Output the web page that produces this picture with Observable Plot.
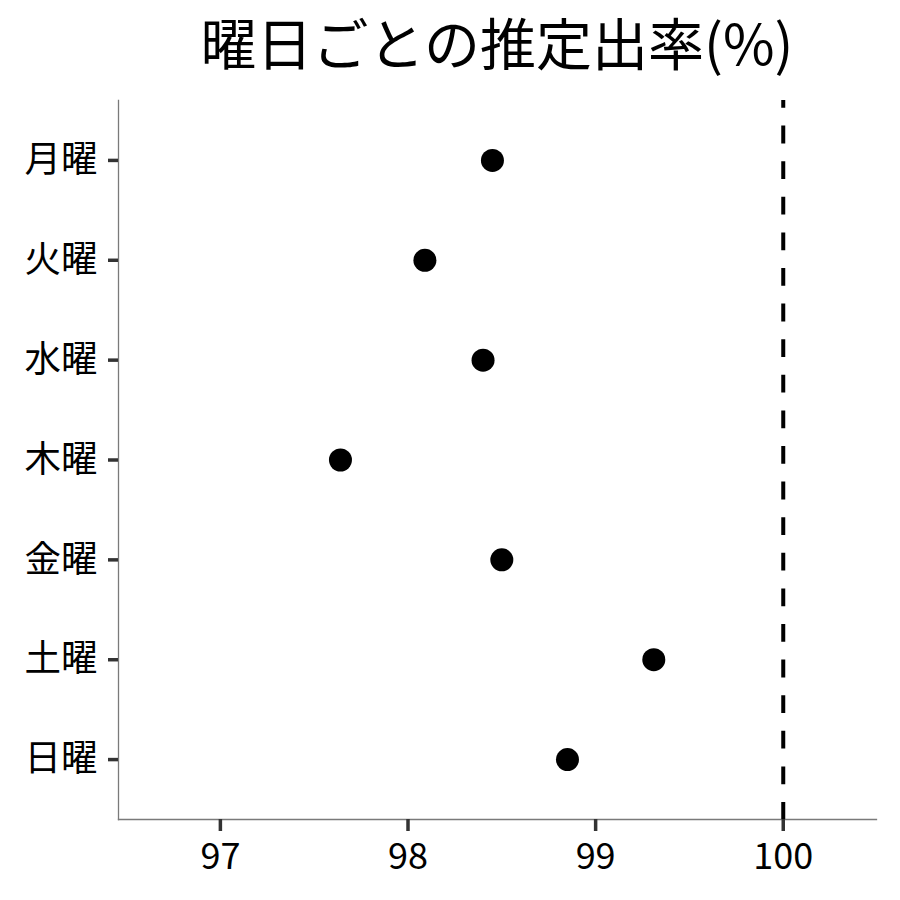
<!DOCTYPE html>
<html>
<head>
<meta charset="utf-8">
<script src="https://cdn.jsdelivr.net/npm/d3@7"></script>
<script src="https://cdn.jsdelivr.net/npm/@observablehq/plot@0.6"></script>
<style>
  html, body { margin: 0; padding: 0; background: #fff; overflow: hidden; }
  #wrap { width: 900px; height: 900px; font-family: "Noto Sans CJK JP", "Noto Sans", sans-serif; }
  #title { height: 90px; line-height: normal; font-size: 56px; text-align: center; padding-left: 94px; box-sizing: border-box; color: #000; white-space: nowrap; overflow: visible; }
  #chart svg { display: block; max-width: none; }
</style>
</head>
<body>
<div id="wrap">
  <div id="title">曜日ごとの推定出率(%)</div>
  <div id="chart"></div>
</div>
<script>
const days = ["月曜", "火曜", "水曜", "木曜", "金曜", "土曜", "日曜"];
const rates = [98.45, 98.09, 98.40, 97.64, 98.50, 99.31, 98.85];
const xTicks = [97, 98, 99, 100];
const xDomain = [96.457, 100.497];
const refLine = [100];

const data = days.map((d, i) => ({day: d, rate: rates[i]}));

const W = 900, H = 810, mT = 10, mB = 81, mL = 118, mR = 24;
const panelW = W - mL - mR, panelH = H - mT - mB;

const chart = Plot.plot({
  width: W,
  height: H,
  marginTop: mT,
  marginBottom: mB,
  marginLeft: mL,
  marginRight: mR,
  style: {fontFamily: '"Noto Sans CJK JP", "Noto Sans", sans-serif', background: "#fff", color: "#000"},
  x: {domain: xDomain},
  y: {domain: days, type: "point", padding: 0.6, round: false},
  marks: [
    Plot.frame({anchor: "left", stroke: "#7a7a7a", strokeWidth: 1.3}),
    Plot.frame({anchor: "bottom", stroke: "#7a7a7a", strokeWidth: 1.3}),
    Plot.tickY(days, {y: d => d, stroke: "#333", strokeWidth: 3.5, insetLeft: -10, insetRight: panelW}),
    Plot.tickX(xTicks, {x: d => d, stroke: "#333", strokeWidth: 3.5, insetTop: panelH, insetBottom: -12}),
    Plot.axisX({ticks: xTicks, tickFormat: d3.format("d"), tickSize: 0, tickPadding: 24, fill: "#000", fontSize: 36, label: null}),
    Plot.axisY({tickSize: 0, tickPadding: 21, fill: "#000", fontSize: 36.5, label: null}),
    Plot.ruleX(refLine, {stroke: "#000", strokeWidth: 4, strokeDasharray: "17.8,17.8", strokeDashoffset: 10}),
    Plot.dot(data, {x: "rate", y: "day", r: 11.5, fill: "#000", stroke: "none"})
  ]
});
document.getElementById("chart").appendChild(chart);
</script>
</body>
</html>
